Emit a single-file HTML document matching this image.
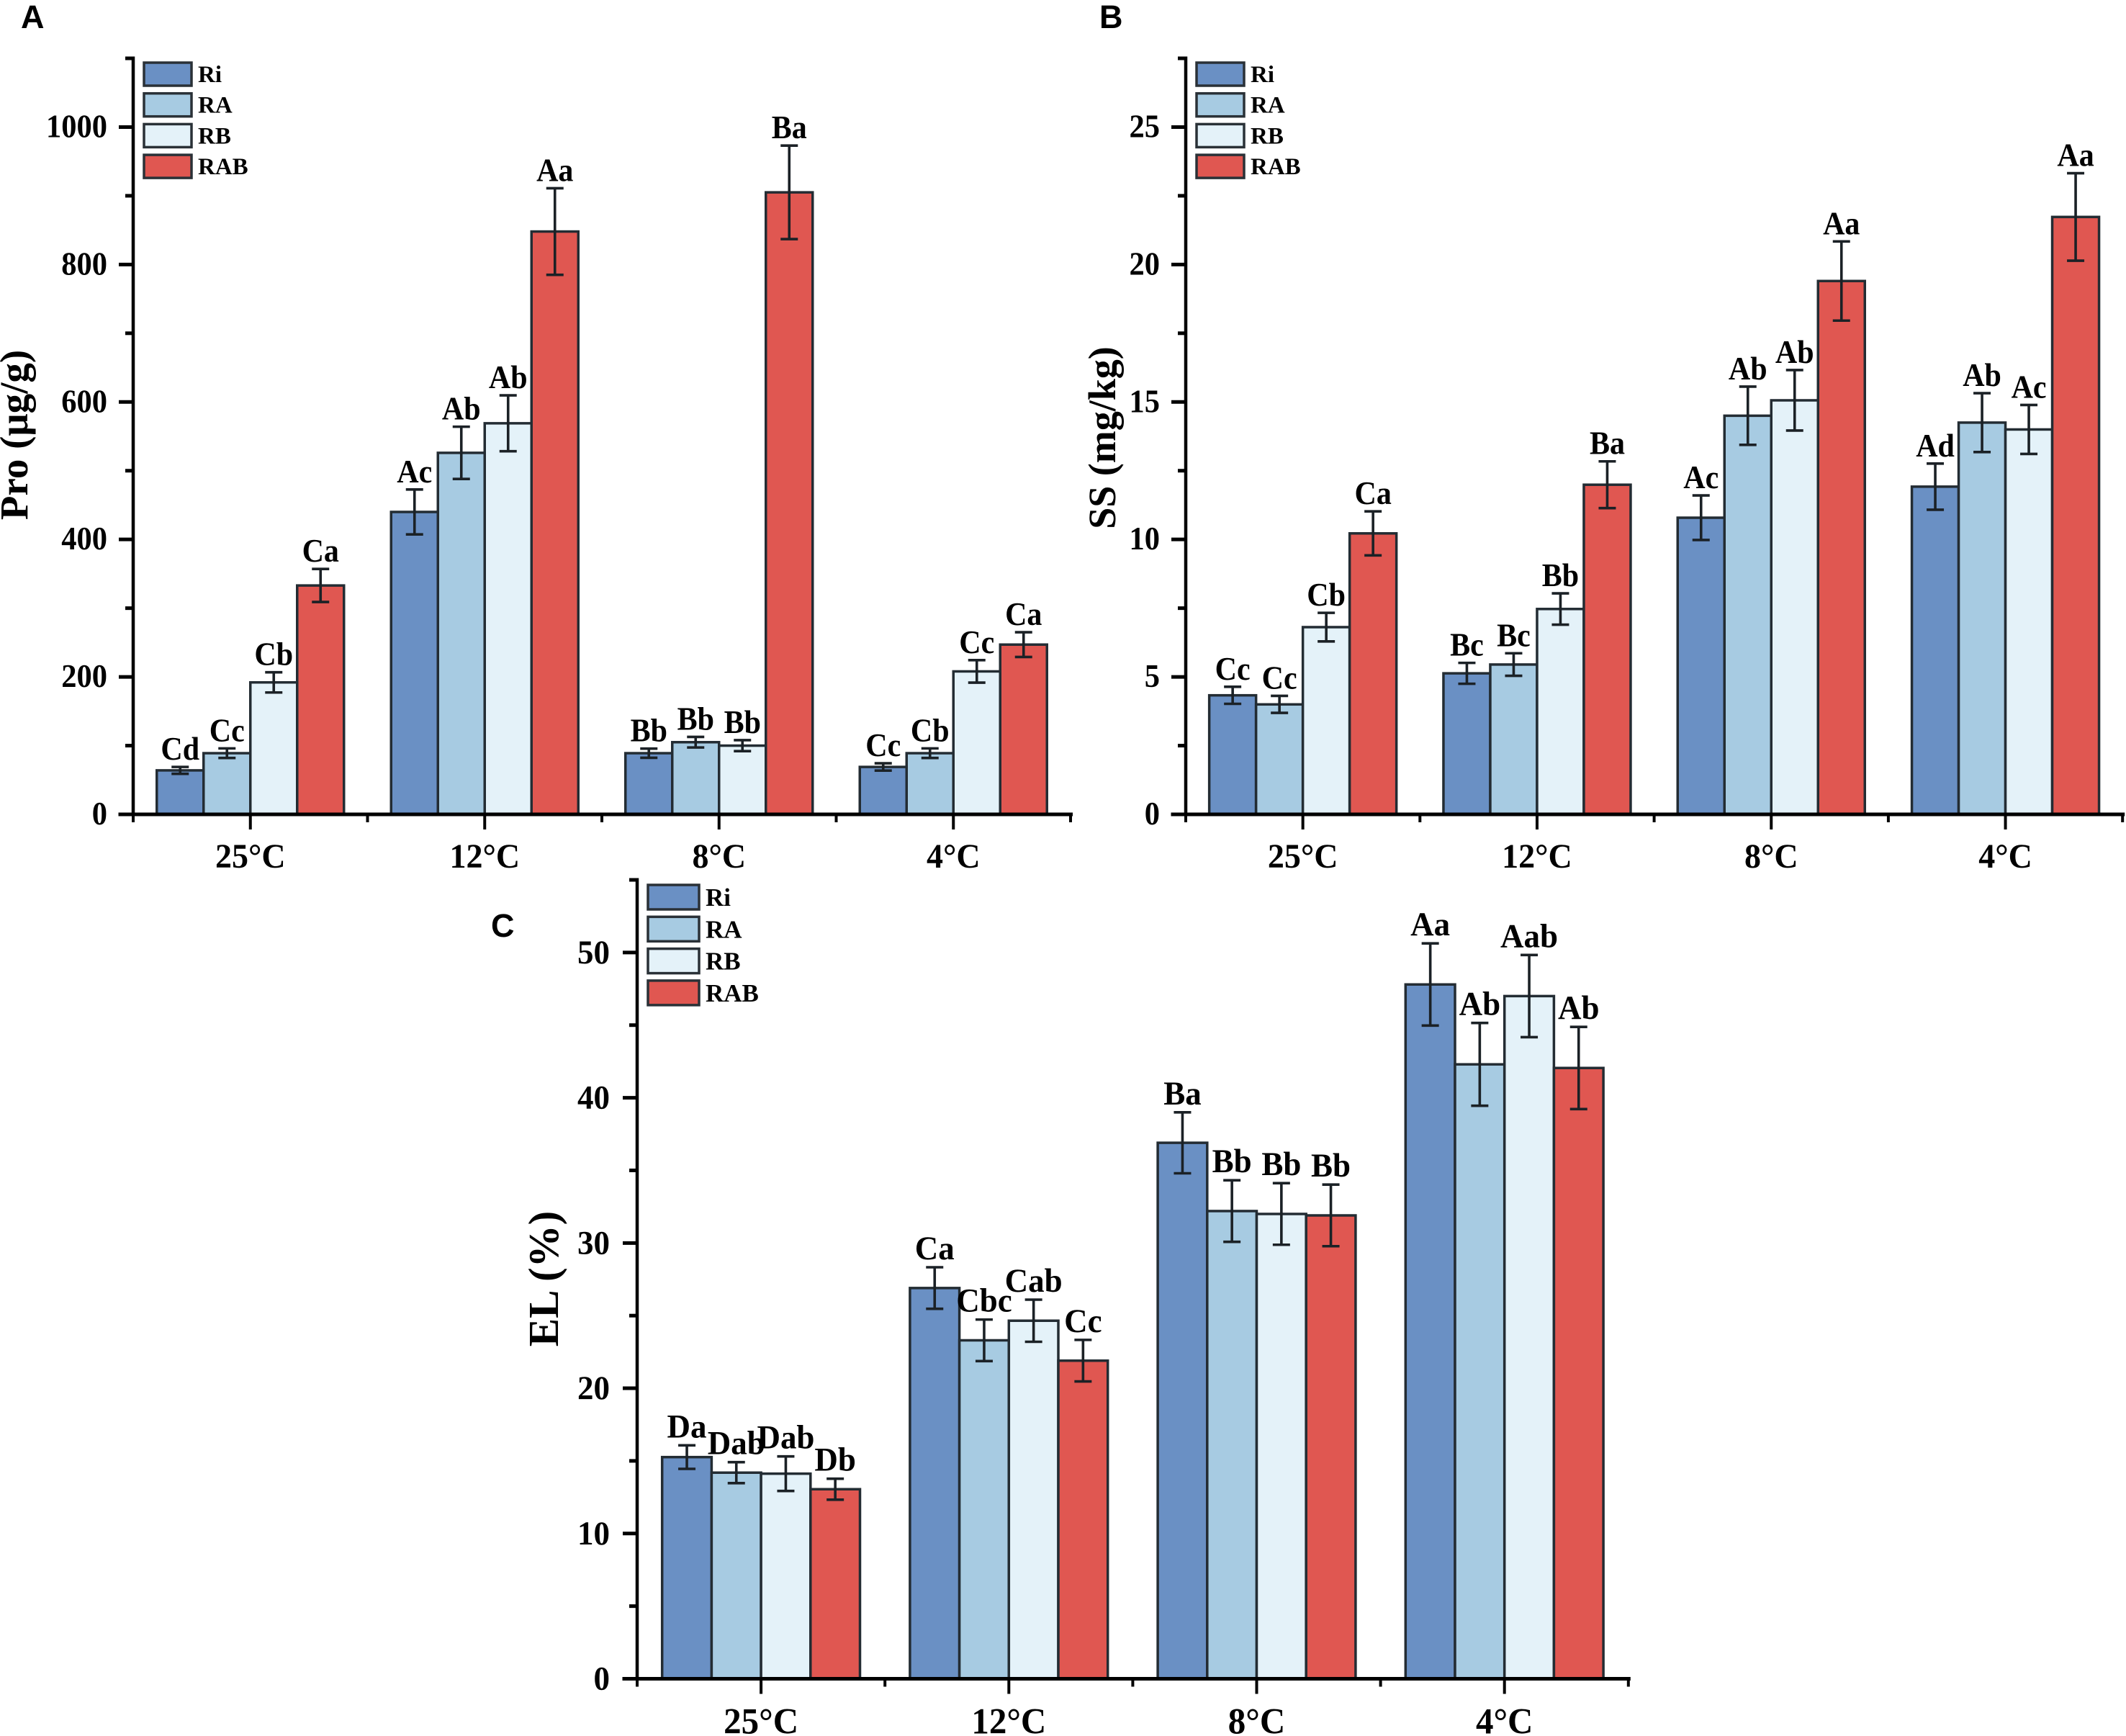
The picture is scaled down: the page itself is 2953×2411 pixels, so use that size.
<!DOCTYPE html>
<html lang="en">
<head>
<meta charset="utf-8">
<title>Pro, SS and EL by temperature and treatment</title>
<style>
html,body{margin:0;padding:0;background:#fff;}
svg{display:block;}
text{font-family:"Liberation Serif",serif;font-weight:bold;fill:#000;}
</style>
</head>
<body>
<svg id="figure" xmlns="http://www.w3.org/2000/svg" width="2953" height="2411" viewBox="0 0 2953 2411">
<rect x="0" y="0" width="2953" height="2411" fill="#ffffff"/>
</svg>
<script>
const categories = ['25°C', '12°C', '8°C', '4°C'];
const seriesNames = ['Ri', 'RA', 'RB', 'RAB'];
const seriesColors = ['#6a90c4', '#a7cbe2', '#e4f2f9', '#e05751'];

const proTicks = [0, 200, 400, 600, 800, 1000];
const proRi = [64, 440, 89, 69];
const proRA = [89, 526, 105, 89];
const proRB = [192, 569, 100, 208];
const proRAB = [333, 848, 905, 247];
const proRiErr = [5, 32.7, 6.7, 5.3];
const proRAErr = [7, 38, 7.7, 7];
const proRBErr = [14.7, 40.7, 8, 16.4];
const proRABErr = [24, 63, 68, 18];
const proRiLabels = ['Cd', 'Ac', 'Bb', 'Cc'];
const proRALabels = ['Cc', 'Ab', 'Bb', 'Cb'];
const proRBLabels = ['Cb', 'Ab', 'Bb', 'Cc'];
const proRABLabels = ['Ca', 'Aa', 'Ba', 'Ca'];

const ssTicks = [0, 5, 10, 15, 20, 25];
const ssRi = [4.33, 5.13, 10.79, 11.92];
const ssRA = [4.0, 5.45, 14.5, 14.25];
const ssRB = [6.81, 7.47, 15.06, 14.0];
const ssRAB = [10.22, 11.99, 19.4, 21.73];
const ssRiErr = [0.31, 0.38, 0.81, 0.84];
const ssRAErr = [0.31, 0.41, 1.06, 1.07];
const ssRBErr = [0.52, 0.57, 1.1, 0.89];
const ssRABErr = [0.8, 0.85, 1.44, 1.59];
const ssRiLabels = ['Cc', 'Bc', 'Ac', 'Ad'];
const ssRALabels = ['Cc', 'Bc', 'Ab', 'Ab'];
const ssRBLabels = ['Cb', 'Bb', 'Ab', 'Ac'];
const ssRABLabels = ['Ca', 'Ba', 'Aa', 'Aa'];

const elTicks = [0, 10, 20, 30, 40, 50];
const elRi = [15.26, 26.9, 36.9, 47.8];
const elRA = [14.19, 23.3, 32.2, 42.3];
const elRB = [14.12, 24.65, 32.0, 47.0];
const elRAB = [13.05, 21.9, 31.9, 42.05];
const elRiErr = [0.81, 1.43, 2.1, 2.83];
const elRAErr = [0.72, 1.43, 2.12, 2.85];
const elRBErr = [1.19, 1.45, 2.12, 2.83];
const elRABErr = [0.72, 1.43, 2.12, 2.83];
const elRiLabels = ['Da', 'Ca', 'Ba', 'Aa'];
const elRALabels = ['Dab', 'Cbc', 'Bb', 'Ab'];
const elRBLabels = ['Dab', 'Cab', 'Bb', 'Aab'];
const elRABLabels = ['Db', 'Cc', 'Bb', 'Ab'];

const svg = document.getElementById('figure');
const NS = 'http://www.w3.org/2000/svg';

function make(tag, attrs, parent) {
  const el = document.createElementNS(NS, tag);
  for (const k in attrs) el.setAttribute(k, attrs[k]);
  parent.appendChild(el);
  return el;
}

function stretched(x, y, sy) {
  return 'translate(' + x + ' ' + y + ') scale(1 ' + sy + ')';
}

function drawPanel(cfg) {
  const g = make('g', {}, svg);
  
  

  const y = v => cfg.y0 - (v / cfg.yMax) * (cfg.y0 - cfg.yTop);
  const groupCenter = i => cfg.axisX + cfg.step * (i + 0.5);
  const barX = (i, s) => groupCenter(i) - 2 * cfg.barW + s * cfg.barW;
  const ink = '#232c33';

  // bars
  cfg.values.forEach((vals, s) => {
    vals.forEach((v, i) => {
      const bar = make('rect', {
        x: barX(i, s), y: y(v), width: cfg.barW, height: cfg.y0 - y(v),
        fill: seriesColors[s], stroke: ink, 'stroke-width': 3.5
      }, g);
      
      
    });
  });

  // error bars and significance labels
  cfg.values.forEach((vals, s) => {
    vals.forEach((v, i) => {
      const e = cfg.errors[s][i];
      const cx = barX(i, s) + cfg.barW / 2;
      const top = y(v + e), bottom = y(v - e);
      const eb = make('path', {
        d: 'M' + (cx - 12) + ' ' + top + 'H' + (cx + 12) +
           'M' + cx + ' ' + top + 'V' + bottom +
           'M' + (cx - 12) + ' ' + bottom + 'H' + (cx + 12),
        fill: 'none', stroke: '#1b2126', 'stroke-width': 3.6
      }, g);
      
      
      const lab = make('text', {
        transform: stretched(cx, top - cfg.labelGap, cfg.textStretch),
        'text-anchor': 'middle', 'font-size': cfg.labelSize
      }, g);
      lab.textContent = cfg.labels[s][i];
      
      
    });
  });

  // y axis
  const right = cfg.axisX + cfg.step * categories.length;
  const yAxis = make('line', {
    x1: cfg.axisX, y1: cfg.yTop - 2.5, x2: cfg.axisX, y2: cfg.y0, stroke: '#000', 'stroke-width': 4.5
  }, g);
  
  

  const xAxis = make('line', {
    x1: cfg.axisX - 20.5, y1: cfg.y0, x2: right + 3, y2: cfg.y0, stroke: '#000', 'stroke-width': 5
  }, g);
  
  

  const tickGap = cfg.ticks[1] - cfg.ticks[0];
  for (let m = 1; m * tickGap / 2 <= cfg.yMax; m += 2) {
    const yy = y(m * tickGap / 2);
    const minor = make('line', {
      x1: cfg.axisX - 11, y1: yy, x2: cfg.axisX, y2: yy, stroke: '#000', 'stroke-width': 5
    }, g);
    
    
  }

  cfg.ticks.forEach(t => {
    const yy = y(t);
    if (t !== 0) {
      const tick = make('line', {
        x1: cfg.axisX - 20, y1: yy, x2: cfg.axisX, y2: yy, stroke: '#000', 'stroke-width': 5
      }, g);
      
      
    }
    const label = make('text', {
      transform: stretched(cfg.axisX - cfg.tickLabelGap, yy + cfg.tickDy, cfg.textStretch),
      'text-anchor': 'end', 'font-size': cfg.tickSize
    }, g);
    label.textContent = String(t);
    
    
  });

  // x ticks
  for (let i = 0; i <= categories.length; i++) {
    const xx = cfg.axisX + cfg.step * i;
    const minor = make('line', {
      x1: xx, y1: cfg.y0, x2: xx, y2: cfg.y0 + 11, stroke: '#000', 'stroke-width': 4
    }, g);
    
    
  }
  categories.forEach((c, i) => {
    const xx = groupCenter(i);
    const tick = make('line', {
      x1: xx, y1: cfg.y0, x2: xx, y2: cfg.y0 + 21, stroke: '#000', 'stroke-width': 4
    }, g);
    
    
    const label = make('text', {
      transform: stretched(xx, cfg.y0 + cfg.catGap, 1.03),
      'text-anchor': 'middle', 'font-size': cfg.catSize
    }, g);
    label.textContent = c;
    
    
  });

  // axis title
  const title = make('text', {
    x: cfg.titleX, y: cfg.titleY, 'text-anchor': 'middle', 'font-size': cfg.titleSize,
    transform: 'rotate(-90 ' + cfg.titleX + ' ' + cfg.titleY + ')'
  }, g);
  title.textContent = cfg.title;
  
  

  // legend
  seriesNames.forEach((name, s) => {
    const boxY = cfg.legendY + s * cfg.legendStep;
    const entry = make('g', {}, g);
    
    
    const swatch = make('rect', {
      x: cfg.legendX, y: boxY, width: cfg.legendW, height: cfg.legendH,
      fill: seriesColors[s], stroke: '#2a3137', 'stroke-width': 3.5
    }, entry);
    
    
    const text = make('text', {
      x: cfg.legendX + cfg.legendW + 9, y: boxY + cfg.legendH - 5, 'font-size': cfg.legendSize
    }, entry);
    text.textContent = name;
    
    
  });

  // panel letter
  const letter = make('text', {
    x: cfg.letterX, y: cfg.letterY, 'font-size': 45
  }, g);
  letter.style.fontFamily = '"Liberation Sans", sans-serif';
  letter.textContent = cfg.letter;
  
  
}

drawPanel({
  key: 'pro', letter: 'A', letterX: 29, letterY: 39,
  title: 'Pro (μg/g)', titleX: 38, titleY: 604, titleSize: 55,
  axisX: 185, step: 325.5, barW: 65, y0: 1131, yTop: 81, yMax: 1100,
  ticks: proTicks, tickSize: 42.5, tickLabelGap: 36, tickDy: 14, catSize: 46, catGap: 74,
  labelSize: 42, labelGap: 10, textStretch: 1.08,
  legendX: 200, legendY: 87, legendStep: 42.7, legendW: 66, legendH: 32, legendSize: 33,
  values: [proRi, proRA, proRB, proRAB],
  errors: [proRiErr, proRAErr, proRBErr, proRABErr],
  labels: [proRiLabels, proRALabels, proRBLabels, proRABLabels]
});

drawPanel({
  key: 'ss', letter: 'B', letterX: 1527, letterY: 39,
  title: 'SS (mg/kg)', titleX: 1549, titleY: 608, titleSize: 54,
  axisX: 1647, step: 325.3, barW: 65, y0: 1131, yTop: 81, yMax: 27.5,
  ticks: ssTicks, tickSize: 42.5, tickLabelGap: 36, tickDy: 14, catSize: 46, catGap: 74,
  labelSize: 42, labelGap: 10, textStretch: 1.08,
  legendX: 1662, legendY: 87, legendStep: 42.7, legendW: 66, legendH: 32, legendSize: 33,
  values: [ssRi, ssRA, ssRB, ssRAB],
  errors: [ssRiErr, ssRAErr, ssRBErr, ssRABErr],
  labels: [ssRiLabels, ssRALabels, ssRBLabels, ssRABLabels]
});

drawPanel({
  key: 'el', letter: 'C', letterX: 682, letterY: 1301,
  title: 'EL (%)', titleX: 775, titleY: 1776, titleSize: 59,
  axisX: 885, step: 344.2, barW: 68.7, y0: 2331.5, yTop: 1222, yMax: 55,
  ticks: elTicks, tickSize: 45, tickLabelGap: 38, tickDy: 15, catSize: 49, catGap: 76,
  labelSize: 45, labelGap: 11, textStretch: 1.03,
  legendX: 900, legendY: 1229, legendStep: 44.3, legendW: 71, legendH: 34, legendSize: 35,
  values: [elRi, elRA, elRB, elRAB],
  errors: [elRiErr, elRAErr, elRBErr, elRABErr],
  labels: [elRiLabels, elRALabels, elRBLabels, elRABLabels]
});
</script>
</body>
</html>
